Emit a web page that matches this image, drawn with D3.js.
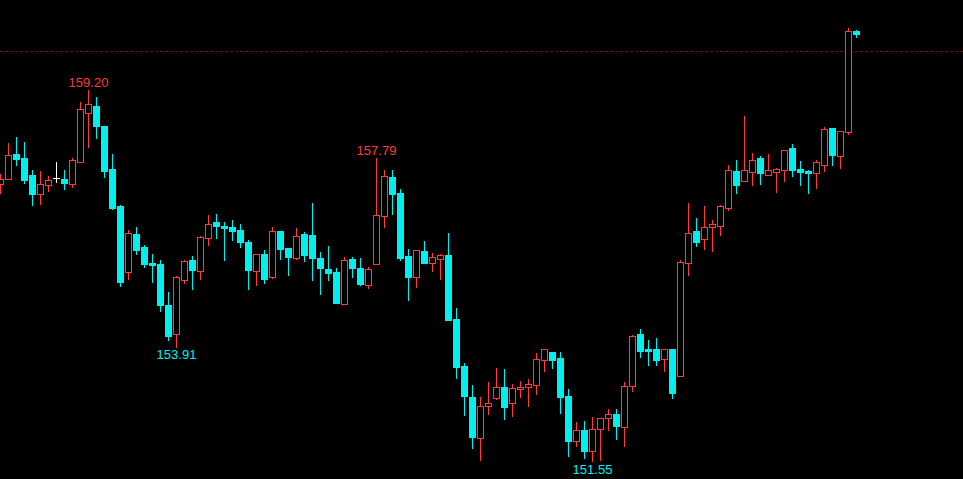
<!DOCTYPE html>
<html><head><meta charset="utf-8">
<script src="https://cdn.jsdelivr.net/npm/d3@7"></script>
<style>html,body{margin:0;padding:0;background:#000;overflow:hidden}</style>
</head><body><svg id="chart" width="963" height="479"></svg>
<script>
const opens  = [157.26,157.37,157.88,157.80,157.45,157.06,157.25,157.38,157.37,157.27,157.72,158.73,158.87,158.46,157.57,156.81,155.44,156.23,155.96,155.64,155.61,154.77,154.18,155.29,155.70,155.48,156.16,156.48,156.40,156.38,156.32,156.07,155.48,155.82,155.35,156.29,155.94,155.74,156.23,156.21,155.74,155.51,155.45,154.78,155.72,155.53,155.18,155.62,156.61,157.41,157.08,155.78,155.35,155.88,155.64,155.72,155.80,154.48,153.51,152.87,152.03,152.69,152.85,153.08,152.75,153.04,153.07,153.13,153.64,153.80,153.68,152.89,151.97,152.19,151.77,152.22,152.45,152.52,152.26,153.09,154.17,153.86,153.86,153.66,153.86,153.31,155.64,156.29,156.12,156.38,156.40,156.77,157.53,157.33,157.52,157.80,157.45,157.52,157.56,158.00,157.57,157.53,157.48,157.66,158.42,157.83,158.34,160.42];
const highs  = [157.47,158.11,158.23,158.13,157.55,157.53,157.43,157.72,157.55,157.80,158.95,159.20,159.06,158.46,157.88,156.82,156.32,156.38,156.01,155.82,155.70,155.04,155.37,155.70,155.78,156.19,156.62,156.64,156.48,156.52,156.44,156.11,155.82,155.90,156.38,156.29,155.94,156.36,156.27,156.87,155.86,155.99,155.53,155.76,155.76,155.74,155.55,157.79,157.55,157.55,157.16,155.92,155.90,156.09,155.84,155.82,156.25,154.71,153.57,153.12,152.87,153.18,153.47,153.45,153.14,153.20,153.25,153.78,153.86,153.80,153.80,153.04,152.36,152.38,152.46,152.44,152.63,152.63,153.18,154.15,154.28,154.05,154.09,153.86,153.86,155.70,156.87,156.56,156.81,156.52,156.83,157.65,157.76,158.66,157.90,157.84,157.88,157.59,157.96,158.09,157.74,157.55,157.76,158.44,158.42,158.36,160.48,160.44];
const lows   = [157.08,157.37,157.65,157.29,156.84,156.86,157.12,157.31,157.15,157.21,157.72,158.03,158.22,157.41,156.75,155.17,155.31,155.81,155.56,155.25,154.65,154.05,153.91,155.23,155.09,155.31,156.01,156.15,155.70,156.11,155.96,155.10,155.18,155.22,155.33,155.72,155.39,155.72,155.68,155.28,155.00,155.28,154.81,154.78,155.35,155.18,155.12,155.62,156.38,156.64,155.70,154.87,155.14,155.64,155.47,155.31,154.46,153.27,152.50,151.82,151.58,152.52,152.83,152.42,152.48,152.87,152.69,152.94,153.41,153.47,152.54,151.66,151.86,151.62,151.55,151.58,152.19,152.01,151.86,153.00,153.70,153.53,153.53,153.41,152.85,153.31,155.39,155.99,155.92,155.88,156.21,156.73,157.08,157.33,157.25,157.27,157.45,157.10,157.33,157.43,157.25,157.08,157.19,157.54,157.66,157.60,158.30,160.29];
const closes = [157.36,157.86,157.78,157.35,157.06,157.26,157.34,157.38,157.28,157.76,158.81,158.91,158.46,157.54,156.77,155.25,156.25,155.91,155.62,155.60,154.76,154.14,155.35,155.68,155.50,156.17,156.44,156.40,156.36,156.29,156.07,155.49,155.82,155.31,156.29,155.92,155.76,156.19,155.80,155.74,155.53,155.43,154.81,155.70,155.53,155.20,155.51,156.62,157.43,157.06,155.74,155.35,155.90,155.64,155.76,155.80,154.46,153.49,152.89,152.05,152.69,152.75,153.08,152.67,153.06,153.08,153.14,153.66,153.86,153.64,152.87,151.97,152.19,151.76,152.21,152.44,152.52,152.28,153.10,154.13,153.82,153.82,153.64,153.86,152.96,155.66,156.25,156.07,156.38,156.44,156.81,157.55,157.25,157.55,157.76,157.48,157.55,157.57,157.96,157.56,157.52,157.48,157.72,158.40,157.87,158.36,160.42,160.35];
const markHighIdx = [11, 47];
const markLowIdx = [22, 74];
const refLevel = 160.00;

const W = 963, H = 479;
const svg = d3.select("#chart");
svg.append("rect").attr("width", W).attr("height", H).attr("fill", "#000");

const idx = d3.range(opens.length);
const x = d3.scaleBand().domain(idx).range([-3.5, -3.5 + 8 * opens.length]).padding(0);
const cx = i => Math.floor(x(i) + x.bandwidth() / 2) + 0.5;
const y = d3.scaleLinear().domain([151.55, 159.20]).range([461.2, 90]);

const UP = "#ff3b3b", DOWN = "#00f0f0", FLAT = "#ffffff";
const colorOf = i => closes[i] > opens[i] ? UP : (closes[i] < opens[i] ? DOWN : FLAT);

// reference dashed line
const yr = Math.round(y(refLevel)) + 0.5;
svg.append("line").attr("x1", 0).attr("x2", W).attr("y1", yr).attr("y2", yr)
  .attr("stroke", "#8b0000").attr("stroke-width", 1).attr("stroke-dasharray", "3,2");

const g = svg.append("g");
const candles = g.selectAll("g.c").data(idx).join("g").attr("class", "c");

candles.append("line")
  .attr("x1", cx).attr("x2", cx)
  .attr("y1", i => Math.round(y(highs[i])))
  .attr("y2", i => Math.round(y(lows[i])) + 1)
  .attr("stroke", colorOf).attr("stroke-width", 1);

candles.each(function(i) {
  const sel = d3.select(this);
  const top = Math.round(y(Math.max(opens[i], closes[i])));
  const bot = Math.round(y(Math.min(opens[i], closes[i])));
  const c = cx(i);
  if (closes[i] > opens[i]) {
    sel.append("rect").attr("x", c - 3).attr("y", top + 0.5)
      .attr("width", 6).attr("height", Math.max(1, bot - top))
      .attr("fill", "#000").attr("stroke", UP).attr("stroke-width", 1);
  } else if (closes[i] < opens[i]) {
    sel.append("rect").attr("x", c - 3.5).attr("y", top)
      .attr("width", 7).attr("height", Math.max(2, bot - top + 1))
      .attr("fill", DOWN);
  } else {
    sel.append("line").attr("x1", c - 3.5).attr("x2", c + 3.5)
      .attr("y1", top + 0.5).attr("y2", top + 0.5)
      .attr("stroke", FLAT).attr("stroke-width", 1);
  }
});

const font = "'Liberation Sans', Arial, sans-serif";
markHighIdx.forEach(i => {
  svg.append("text").attr("x", cx(i)).attr("y", y(highs[i]) - 3)
    .attr("text-anchor", "middle").attr("fill", UP)
    .style("font-family", font).style("font-size", "13px")
    .text(highs[i].toFixed(2));
});
markLowIdx.forEach(i => {
  svg.append("text").attr("x", cx(i)).attr("y", y(lows[i]) + 12.5)
    .attr("text-anchor", "middle").attr("fill", DOWN)
    .style("font-family", font).style("font-size", "13px")
    .text(lows[i].toFixed(2));
});
</script>
</body></html>
